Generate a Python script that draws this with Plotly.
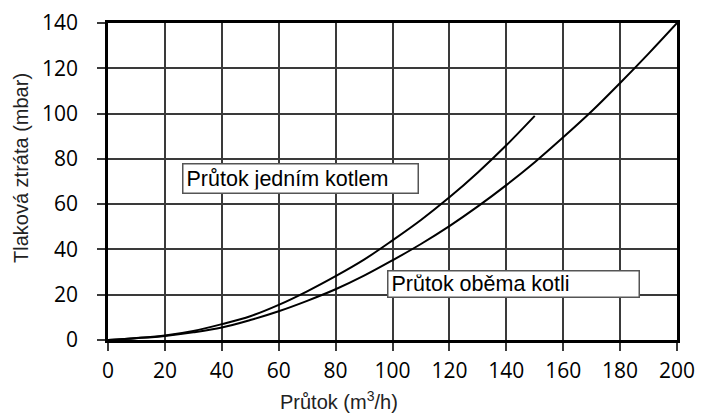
import plotly.graph_objects as go

# Flow (m3/h) and pressure loss (mbar)
flow_one = [0, 10, 20, 30, 40, 50, 60, 70, 80, 90, 100, 110, 120, 130, 140, 150]
loss_one = [0, 0.9, 2.0, 4.0, 7.0, 10.5, 15.5, 21.5, 28.2, 35.5, 44.0, 53.0, 63.0, 74.0, 86.0, 99.0]

flow_both = [0, 10, 20, 30, 40, 50, 60, 70, 80, 90, 100, 110, 120, 130, 140, 150, 160, 170, 180, 190, 200]
loss_both = [0, 0.8, 1.8, 3.4, 5.5, 8.8, 12.7, 17.3, 22.4, 28.4, 35.2, 42.4, 50.3, 59.0, 68.4, 78.5, 89.5, 101.0, 113.5, 126.5, 140.0]

x_ticks = [0, 20, 40, 60, 80, 100, 120, 140, 160, 180, 200]
y_ticks = [0, 20, 40, 60, 80, 100, 120, 140]

label_one = "Průtok jedním kotlem"
label_both = "Průtok oběma kotli"
x_title = "Průtok (m<sup>3</sup>/h)"
y_title = "Tlaková ztráta (mbar)"

L, R, T, B = 108, 36, 23, 77
PW, PH = 713 - L - R, 417 - T - B

fig = go.Figure()
fig.add_trace(go.Scatter(x=flow_one, y=loss_one, mode="lines", line=dict(color="black", width=2, shape="spline"),
                         showlegend=False, hoverinfo="skip"))
fig.add_trace(go.Scatter(x=flow_both, y=loss_both, mode="lines", line=dict(color="black", width=2, shape="spline"),
                         showlegend=False, hoverinfo="skip"))

axis_common = dict(showgrid=True, gridcolor="#3a3a3a", gridwidth=1.5,
                   showline=True, linecolor="black", linewidth=2.5, mirror=True,
                   ticks="outside", ticklen=8, tickcolor="#3a3a3a", tickwidth=1.5,
                   tickfont=dict(family="Open Sans", size=21, color="black"),
                   zeroline=False, fixedrange=True)

boxfont = dict(family="Liberation Sans", size=21.5, color="black")
titlefont = dict(family="Liberation Sans", size=20, color="#222222")

fig.update_layout(
    width=713, height=417, margin=dict(l=L, r=R, t=T, b=B, autoexpand=False),
    plot_bgcolor="white", paper_bgcolor="white",
    font=dict(family="Open Sans", size=21, color="black"),
    xaxis=dict(range=[0, 200], tickvals=x_ticks, ticklabelstandoff=2, **axis_common),
    yaxis=dict(range=[0, 140], tickvals=y_ticks, ticklabelstandoff=15, **axis_common),
    annotations=[
        dict(x=67.5, y=71.5, xref="x", yref="y", text=label_one, showarrow=False,
             font=boxfont, align="left", width=228, height=22, borderpad=3,
             bordercolor="#555555", borderwidth=1.5, bgcolor="white"),
        dict(x=142.7, y=24.9, xref="x", yref="y", text=label_both, showarrow=False,
             font=boxfont, align="left", width=244, height=19, borderpad=3,
             bordercolor="#555555", borderwidth=1.5, bgcolor="white"),
        dict(x=(339 - L) / PW, y=-(400 - (T + PH)) / PH, xref="x domain", yref="y domain",
             text=x_title, showarrow=False, font=titlefont, xanchor="center", yanchor="middle"),
        dict(x=-(L - 21) / PW, y=((T + PH) - 168) / PH, xref="x domain", yref="y domain", text=y_title,
             showarrow=False, textangle=-90, font=titlefont, xanchor="center", yanchor="middle"),
    ],
)

fig.write_html("out.html", config={"displayModeBar": False},
               post_script="document.body.style.margin='0';document.body.style.padding='0';")
